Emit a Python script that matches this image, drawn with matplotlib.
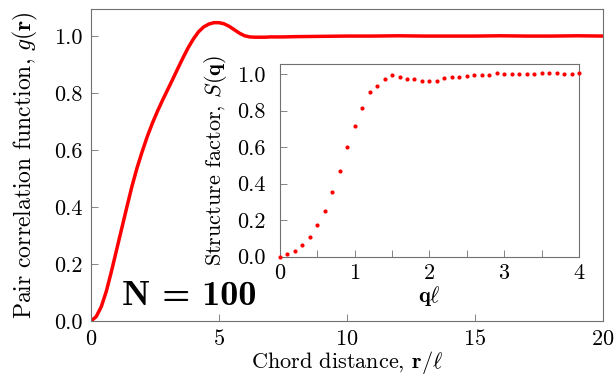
import numpy as np
import matplotlib
matplotlib.use("Agg")
import matplotlib.pyplot as plt
from matplotlib.ticker import MultipleLocator

plt.rcParams['font.family'] = 'serif'
plt.rcParams['font.serif'] = ['cmr10']
plt.rcParams['mathtext.fontset'] = 'cm'
plt.rcParams['axes.formatter.use_mathtext'] = True

# pair correlation function g(r)
r = [0, 0.2, 0.4, 0.6, 0.8, 1.0, 1.2, 1.4, 1.6, 1.8, 2.0, 2.2, 2.4, 2.6,
     2.8, 3.0, 3.2, 3.4, 3.6, 3.8, 4.0, 4.2, 4.4, 4.6, 4.8, 5.0, 5.2, 5.4,
     5.6, 5.8, 6.0, 6.2, 6.4, 6.6, 6.8, 7.0, 7.5, 8, 9, 10, 11, 12, 13, 14,
     15, 16, 17, 18, 19, 20]
g = [0, 0.015, 0.05, 0.105, 0.175, 0.25, 0.325, 0.4, 0.473, 0.538, 0.595,
     0.648, 0.695, 0.737, 0.776, 0.813, 0.85, 0.888, 0.925, 0.96, 0.99,
     1.015, 1.032, 1.042, 1.047, 1.047, 1.043, 1.034, 1.022, 1.01, 1.001,
     0.997, 0.996, 0.996, 0.996, 0.997, 0.997, 0.998, 0.999, 1.0, 1.0,
     1.001, 1.0, 1.0, 1.0, 1.001, 1.0, 1.0, 1.001, 1.0]

# structure factor S(q)
q = [0.0, 0.1, 0.2, 0.3, 0.4, 0.5, 0.6, 0.7, 0.8, 0.9, 1.0, 1.1, 1.2, 1.3,
     1.4, 1.5, 1.6, 1.7, 1.8, 1.9, 2.0, 2.1, 2.2, 2.3, 2.4, 2.5, 2.6, 2.7,
     2.8, 2.9, 3.0, 3.1, 3.2, 3.3, 3.4, 3.5, 3.6, 3.7, 3.8, 3.9, 4.0]
S = [0.0, 0.013, 0.029, 0.064, 0.108, 0.172, 0.25, 0.353, 0.47, 0.6, 0.715,
     0.815, 0.9, 0.936, 0.976, 0.996, 0.982, 0.971, 0.971, 0.965, 0.965,
     0.96, 0.98, 0.982, 0.987, 0.991, 0.993, 0.996, 0.998, 1.004, 1.002,
     1.002, 1.002, 1.002, 1.0, 1.005, 1.005, 1.004, 1.002, 1.002, 1.005]

spine_col = '#707070'

fig = plt.figure(figsize=(6.15, 3.75), dpi=100)
ax = fig.add_axes([0.148, 0.144, 0.8325, 0.832])
ax.plot(r, g, color='red', lw=2.5, solid_joinstyle='round')
ax.set_xlim(0, 20)
ax.set_ylim(0, 1.095)
ax.xaxis.set_major_locator(MultipleLocator(5))
ax.yaxis.set_major_locator(MultipleLocator(0.2))
ax.yaxis.set_major_formatter(plt.FormatStrFormatter('%.1f'))
ax.tick_params(direction='in', length=5, width=0.6, color=spine_col,
               labelsize=16, pad=6)
for s in ax.spines.values():
    s.set_color(spine_col)
    s.set_linewidth(0.8)
ax.set_xlabel(r'Chord distance, $\mathbf{r}/\ell$', fontsize=16, labelpad=0)
ax.set_ylabel(r'Pair correlation function, $g(\mathbf{r})$', fontsize=17,
              labelpad=10)
ax.text(1.2, 0.056, 'N = 100', family='cmb10', fontsize=26,
        ha='left', va='baseline')

# inset
ins = fig.add_axes([0.455, 0.316, 0.4865, 0.513])
ins.plot(q, S, 'o', color='red', ms=3, mec='none', clip_on=False, zorder=3)
ins.set_xlim(0, 4)
ins.set_ylim(0, 1.055)
ins.xaxis.set_major_locator(MultipleLocator(1))
ins.xaxis.set_minor_locator(MultipleLocator(0.5))
ins.yaxis.set_major_locator(MultipleLocator(0.2))
ins.yaxis.set_major_formatter(plt.FormatStrFormatter('%.1f'))
ins.tick_params(which='both', direction='in', length=5, width=0.6,
                color=spine_col, labelsize=16, pad=5)
ins.tick_params(axis='y', pad=10)
for s in ins.spines.values():
    s.set_color(spine_col)
    s.set_linewidth(0.8)
ins.set_xlabel(r'$\mathbf{q}\ell$', fontsize=16, labelpad=1)
ins.set_ylabel(r'Structure factor, $S(\mathbf{q})$', fontsize=16, labelpad=6)

fig.savefig('out.png', dpi=100)
